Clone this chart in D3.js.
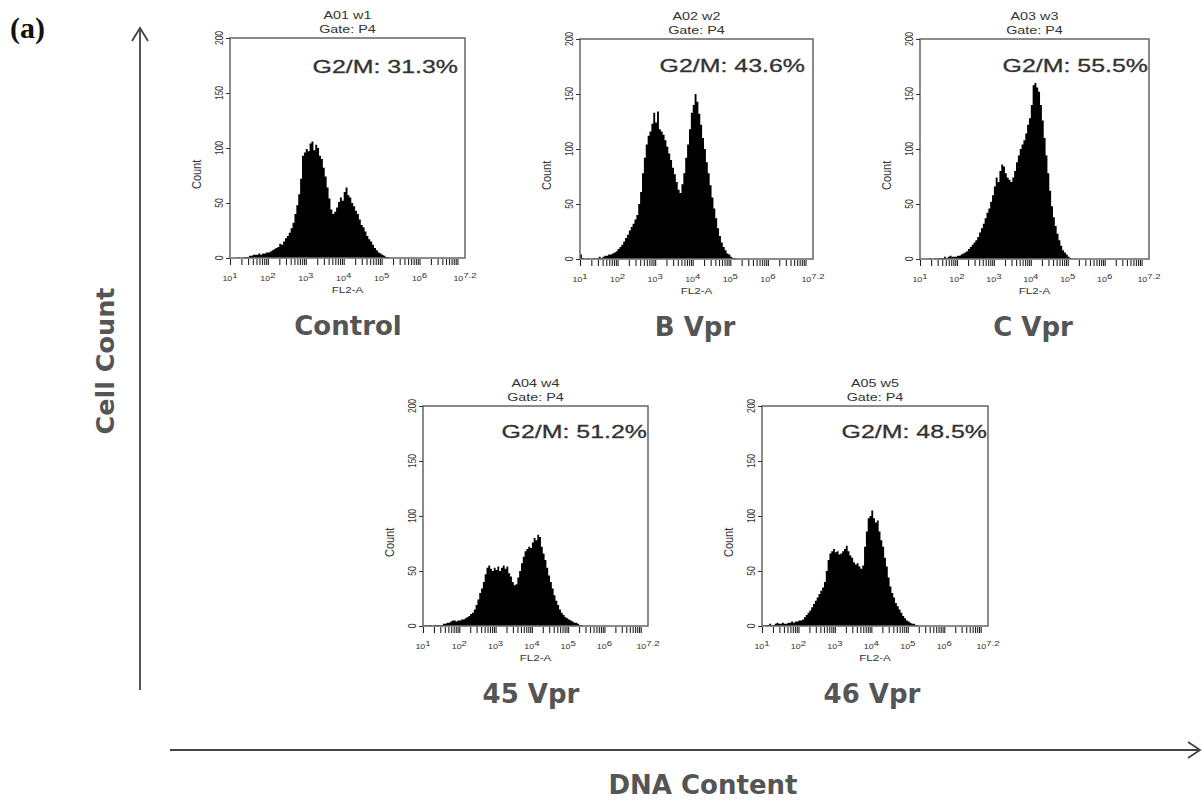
<!DOCTYPE html>
<html>
<head>
<meta charset="utf-8">
<script src="https://cdn.jsdelivr.net/npm/d3@7"></script>
<style>
  html, body { margin: 0; padding: 0; background: #fff; }
  svg { display: block; }
</style>
</head>
<body>
<svg id="fig" width="1204" height="801"></svg>
<script>
// ---- Data -------------------------------------------------------------
const conditions = ["Control", "B Vpr", "C Vpr", "45 Vpr", "46 Vpr"];
const sampleIds  = ["A01 w1", "A02 w2", "A03 w3", "A04 w4", "A05 w5"];
const gateName   = "Gate: P4";
const g2mPercent = [31.3, 43.6, 55.5, 51.2, 48.5];

// Histogram bins on log10(FL2-A): first bin edge and bin width (decades)
const binStartLog = 1.0;
const binStepLog  = 0.05;

const countsControl = [
  0, 0, 0, 0, 1, 0, 0, 1, 1, 1,
  2, 2, 3, 3, 3, 4, 3, 4, 4, 5,
  5, 6, 7, 8, 9, 10, 13, 12, 15, 18,
  20, 23, 27, 32, 40, 48, 58, 72, 93, 96,
  99, 97, 104, 106, 98, 103, 100, 93, 90, 82,
  74, 64, 54, 44, 40, 42, 46, 51, 55, 52,
  60, 64, 57, 55, 50, 47, 43, 40, 35, 30,
  28, 24, 20, 17, 15, 12, 9, 7, 5, 4,
  3, 2, 1, 1, 0
];
const countsBVpr = [
  4, 1, 0, 0, 1, 0, 0, 1, 0, 1,
  2, 1, 2, 3, 3, 4, 4, 5, 6, 7,
  9, 11, 13, 16, 19, 22, 26, 29, 32, 36,
  40, 50, 61, 78, 92, 104, 112, 116, 123, 133,
  124, 134, 118, 116, 113, 108, 102, 96, 90, 83,
  77, 70, 63, 60, 68, 78, 92, 104, 118, 133,
  140, 150, 143, 132, 122, 110, 100, 88, 78, 67,
  56, 46, 37, 28, 21, 15, 11, 8, 5, 4,
  2, 1, 1, 0
];
const countsCVpr = [
  0, 0, 0, 0, 0, 1, 0, 0, 1, 0,
  1, 1, 1, 2, 1, 2, 3, 2, 2, 2,
  3, 3, 4, 5, 6, 7, 9, 11, 13, 15,
  17, 20, 24, 28, 32, 37, 42, 46, 52, 58,
  66, 74, 70, 80, 86, 84, 78, 74, 72, 70,
  74, 80, 88, 94, 100, 104, 108, 114, 122, 128,
  140, 158, 160, 156, 152, 140, 126, 110, 94, 78,
  62, 48, 38, 30, 23, 17, 12, 8, 6, 4,
  2, 1, 0
];
const counts45Vpr = [
  0, 1, 0, 1, 1, 0, 1, 1, 1, 1,
  1, 2, 2, 3, 3, 4, 5, 5, 4, 5,
  5, 6, 6, 7, 8, 9, 11, 12, 15, 19,
  24, 30, 34, 40, 47, 53, 55, 52, 50, 53,
  51, 54, 50, 53, 55, 52, 54, 48, 45, 40,
  37, 38, 44, 50, 57, 63, 68, 70, 72, 71,
  76, 80, 78, 83, 81, 72, 66, 60, 53, 46,
  40, 34, 28, 23, 19, 15, 12, 10, 8, 7,
  6, 5, 4, 3, 3, 2, 1, 1, 0
];
const counts46Vpr = [
  1, 0, 1, 1, 2, 1, 1, 2, 3, 2,
  2, 3, 2, 2, 3, 3, 4, 3, 4, 4,
  5, 5, 6, 8, 10, 12, 14, 17, 20, 23,
  26, 29, 32, 35, 40, 50, 60, 66, 68, 70,
  67, 68, 65, 66, 68, 70, 73, 68, 64, 62,
  58, 56, 57, 54, 52, 55, 72, 86, 98, 100,
  105, 98, 94, 96, 86, 78, 72, 62, 54, 44,
  36, 30, 26, 21, 18, 15, 12, 9, 7, 5,
  4, 3, 2, 2, 1, 1, 0
];
const histograms = [countsControl, countsBVpr, countsCVpr, counts45Vpr, counts46Vpr];

// Axis ticks
const countTicks    = [0, 50, 100, 150, 200];
const decadeLabels  = ["1", "2", "3", "4", "5", "6", "7.2"];
const decadeExps    = [1, 2, 3, 4, 5, 6, 7.2];
const xAxisTitle    = "FL2-A";
const yAxisTitle    = "Count";
const figureXTitle  = "DNA Content";
const figureYTitle  = "Cell Count";
const figureTag     = "(a)";

// ---- Layout -----------------------------------------------------------
const PANEL_H = 220;
const panels = [
  { x: 230, y: 38,  w: 235, gEnd: -7, gBase: 35, lx: 348 },
  { x: 580, y: 39,  w: 233, gEnd: -8, gBase: 33, lx: 695 },
  { x: 920, y: 39,  w: 229, gEnd: -1, gBase: 33, lx: 1033 },
  { x: 423, y: 406, w: 225, gEnd: -1, gBase: 32, lx: 531 },
  { x: 762, y: 406, w: 226, gEnd: -1, gBase: 32, lx: 872 }
];
const STRETCH = 1.37;   // horizontal stretch of the cytometer panel text
const PANEL_FONT = "'Liberation Sans', Arial, sans-serif";
const LABEL_FONT = "'DejaVu Sans', Verdana, sans-serif";

const svg = d3.select("#fig");

// text drawn with a horizontal stretch (and optional rotation)
function panelText(parent, x, y, str, size, opts = {}) {
  const t = parent.append("text")
    .attr("transform", `translate(${x},${y}) scale(${opts.sx || STRETCH},1)` + (opts.rotate ? ` rotate(${opts.rotate})` : ""))
    .attr("font-family", PANEL_FONT)
    .attr("font-size", size)
    .attr("fill", opts.fill || "#333")
    .attr("text-anchor", opts.anchor || "middle");
  if (opts.dy) t.attr("dy", opts.dy);
  if (opts.stroke) t.attr("stroke", opts.fill || "#333").attr("stroke-width", opts.stroke);
  t.text(str);
  return t;
}

panels.forEach((p, i) => {
  const g = svg.append("g").attr("transform", `translate(${p.x},${p.y})`);

  const x = d3.scaleLog().domain([10, Math.pow(10, 7.2)]).range([0, p.w]);
  const y = d3.scaleLinear().domain([0, 200]).range([PANEL_H, 0]);

  // histogram as step area
  const counts = histograms[i];
  const pts = counts.map((c, k) => ({ e: Math.pow(10, binStartLog + k * binStepLog), c }));
  pts.push({ e: Math.pow(10, binStartLog + counts.length * binStepLog), c: 0 });
  const area = d3.area()
    .x(d => x(d.e))
    .y0(y(0))
    .y1(d => y(d.c))
    .curve(d3.curveStepAfter);
  g.append("path").datum(pts).attr("d", area).attr("fill", "#000");

  // frame
  g.append("rect")
    .attr("x", 0).attr("y", 0).attr("width", p.w).attr("height", PANEL_H)
    .attr("fill", "none").attr("stroke", "#6e6e6e").attr("stroke-width", 1.6);

  // x axis: log ticks (decades plus 2..9 minors)
  const logTicks = [];
  for (let k = 1; k <= 6; k++) for (let m = 1; m <= 9; m++) logTicks.push(m * Math.pow(10, k));
  logTicks.push(1e7);
  const xAxis = d3.axisBottom(x).tickValues(logTicks).tickSize(6).tickFormat("");
  const xg = g.append("g").attr("transform", `translate(0,${PANEL_H + 1})`).call(xAxis);
  xg.select(".domain").remove();
  xg.selectAll("line").attr("stroke", "#222").attr("stroke-width", 1.1);

  // decade labels 10^n
  decadeExps.forEach((e, k) => {
    const t = g.append("text")
      .attr("transform", `translate(${x(Math.pow(10, e))},${PANEL_H + 23}) scale(${STRETCH},1)`)
      .attr("font-family", PANEL_FONT).attr("font-size", 6.5).attr("fill", "#333")
      .attr("text-anchor", "middle");
    t.append("tspan").text("10");
    t.append("tspan").attr("dy", -3).attr("font-size", 7).text(decadeLabels[k]);
  });

  // y axis ticks
  const yAxis = d3.axisLeft(y).tickValues(countTicks).tickSize(4).tickFormat("");
  const yg = g.append("g").call(yAxis);
  yg.select(".domain").remove();
  yg.selectAll("line").attr("stroke", "#333");
  countTicks.forEach(v => {
    panelText(g, -11, y(v), String(v), 8.5, { rotate: -90, dy: "0.35em" });
  });

  // axis titles
  panelText(g, p.w / 2, PANEL_H + 35, xAxisTitle, 8.5);
  panelText(g, -33, PANEL_H * 0.62, yAxisTitle, 11, { rotate: -90, dy: "0.35em", sx: 1.15 });

  // header
  panelText(g, p.w / 2, -19, sampleIds[i], 10.5);
  panelText(g, p.w / 2, -5, gateName, 10.5);

  // G2/M fraction
  panelText(g, p.w + p.gEnd, p.gBase, `G2/M: ${g2mPercent[i]}%`, 18.2,
    { anchor: "end", fill: "#333", stroke: 0.3 });

  // condition label
  svg.append("text")
    .attr("x", p.lx).attr("y", p.y + PANEL_H + 77)
    .attr("text-anchor", "middle")
    .attr("font-family", LABEL_FONT).attr("font-weight", "bold")
    .attr("font-size", 26).attr("fill", "#555")
    .text(conditions[i]);
});

// ---- Figure-level arrows and titles -----------------------------------
const arrowColor = "#444";
svg.append("line").attr("x1", 140).attr("y1", 690).attr("x2", 140).attr("y2", 28)
  .attr("stroke", arrowColor).attr("stroke-width", 1.8);
svg.append("path").attr("d", "M132,41 L140,28 L148,41")
  .attr("fill", "none").attr("stroke", arrowColor).attr("stroke-width", 1.8);

svg.append("line").attr("x1", 170).attr("y1", 750).attr("x2", 1200).attr("y2", 750)
  .attr("stroke", arrowColor).attr("stroke-width", 1.8);
svg.append("path").attr("d", "M1188,742 L1200,750 L1188,758")
  .attr("fill", "none").attr("stroke", arrowColor).attr("stroke-width", 1.8);

svg.append("text")
  .attr("transform", "translate(105,361) rotate(-90)")
  .attr("dy", "0.35em")
  .attr("text-anchor", "middle")
  .attr("font-family", LABEL_FONT).attr("font-weight", "bold")
  .attr("font-size", 25.5).attr("fill", "#555")
  .text(figureYTitle);

svg.append("text")
  .attr("x", 703).attr("y", 794)
  .attr("text-anchor", "middle")
  .attr("font-family", LABEL_FONT).attr("font-weight", "bold")
  .attr("font-size", 26).attr("fill", "#555")
  .text(figureXTitle);

svg.append("text")
  .attr("x", 10).attr("y", 38)
  .attr("font-family", "'Liberation Serif', 'Times New Roman', serif")
  .attr("font-weight", "bold").attr("font-size", 30)
  .attr("fill", "#111")
  .text(figureTag);
</script>
</body>
</html>
